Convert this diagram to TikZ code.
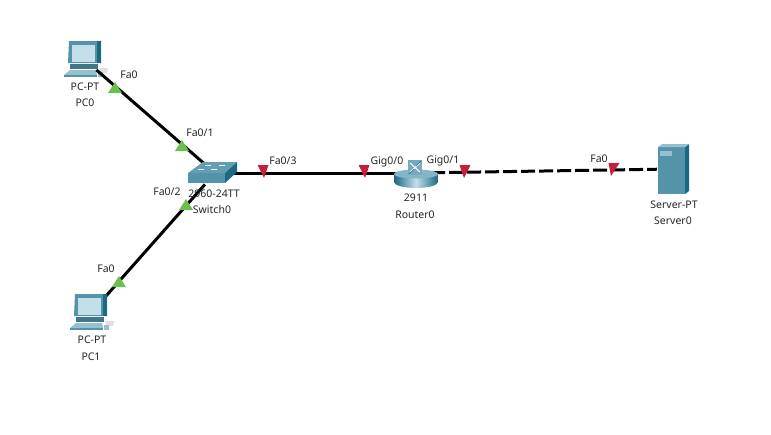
\documentclass[tikz,border=0pt]{standalone}
\usepackage{fontspec}
\setmainfont{Noto Sans}
\usetikzlibrary{calc}
\definecolor{cbody}{RGB}{84,147,170}
\definecolor{cdark}{RGB}{26,104,130}
\definecolor{clight}{RGB}{150,192,208}
\definecolor{cscreen}{RGB}{196,222,234}
\definecolor{cgreen}{RGB}{108,190,78}
\definecolor{cred}{RGB}{200,30,60}
\tikzset{
  device/.style={circle,minimum size=30pt,inner sep=0pt},
  lbl/.style={inner sep=0pt,text=black!85,font=\fontsize{10.5}{10.5}\selectfont},
  link/.style={line width=3pt,color=black},
  pics/upmark/.style={code={\fill[cgreen] (-7,5) -- (7,5) -- (0,-6) -- cycle;}},
  pics/downmark/.style={code={\fill[cred] (-5.5,-6) -- (5.5,-6) -- (#1,7) -- cycle;}},
  pics/downmark/.default=1,
  pics/pcicon/.style={code={
    \fill[cbody] (-16,-19) -- (16,-19) -- (16,3) -- (-17,3) -- cycle;
    \fill[cdark] (12,-19) -- (16,-19) -- (16,3) -- (12,3) -- cycle;
    \fill[cscreen] (-13,-15) -- (10,-15) -- (10,2) -- (-13,2) -- cycle;
    \fill[cbody!80!black] (-15,4) -- (13,4) -- (13,9) -- (-15,9) -- cycle;
    \fill[clight] (-21,15) -- (-15,10) -- (11,10) -- (12,15) -- cycle;
    \fill[cbody] (-21,15) rectangle (12,17);
    \fill[black!12] (14,8) -- (23,8) -- (22,13) -- (16,13) -- cycle;
    \fill[clight] (13,12) -- (18,12) -- (18,17) -- (13,17) -- cycle;
  }},
  pics/switchicon/.style={code={
    \fill[cbody!85!cscreen] (-27,0) -- (-12,-11) -- (22,-11) -- (10,0) -- cycle;
    \fill[cbody] (-27,0) rectangle (10,10);
    \fill[cdark] (10,0) -- (22,-11) -- (22,-1) -- (10,10) -- cycle;
    \foreach \mx/\my in {-7/-8,7/-8,-14/-4,-1/-4}
      \draw[white,line width=0.7pt] (\mx-3,\my) -- (\mx+3,\my);
  }},
  pics/routericon/.style={code={
    \shade[left color=cdark,right color=cdark,middle color=cscreen]
      (-22,1) -- (-22,9) arc[start angle=180,end angle=0,x radius=22,y radius=6] -- (22,1) -- cycle;
    \fill[cbody!55!cscreen] (0,1) ellipse[x radius=22,y radius=4.5];
    \fill[cbody!70!cscreen] (-8,-13) rectangle (6,2);
    \draw[white,line width=1pt] (-6,-1) -- (4,-10) (-6,-10) -- (4,-1);
    \draw[cdark,line width=0.6pt] (-7,1) -- (-2,-4) (0,-7) -- (5,-12);
  }},
  pics/servericon/.style={code={
    \fill[cbody] (-14,-22) rectangle (13,25);
    \fill[cdark] (13,-22) -- (17,-25) -- (17,22) -- (13,25) -- cycle;
    \fill[clight] (-14,-22) -- (-10,-25) -- (17,-25) -- (13,-22) -- cycle;
    \fill[clight] (-12,-18) rectangle (0,-13);
  }}
}

\begin{document}
\begin{tikzpicture}[x=1pt,y=-1pt]
\useasboundingbox (0,0) rectangle (771,434);

\begin{scope}[every node/.style={device}]
\node (pc0) at (85,60) {};
\node (pc1) at (91,313) {};
\node (sw) at (215,173) {};
\node (router) at (416,173) {};
\node (server) at (672,169) {};
\end{scope}

\pic at (pc0) {pcicon};

\draw[link] (pc0) -- (sw);
\draw[link] (pc1) -- (sw);
\draw[link] (sw) -- (router);
\draw[link,dash pattern=on 14pt off 4pt] (router) -- (server);

\pic at (pc1) {pcicon};
\pic at (sw) {switchicon};
\pic at (router) {routericon};
\pic at (server) {servericon};

\pic at (115,88) {upmark};
\pic at (182,146) {upmark};
\pic at (186,205) {upmark};
\pic at (119,282) {upmark};
\pic at (263,171) {downmark};
\pic at (364,171) {downmark};
\pic at (465,171) {downmark={-1}};
\pic at (614,169) {downmark={-3}};

\begin{scope}[every node/.style={lbl}]
\node (pc0port) at (129,75) {Fa0};
\node (pc0type) at (85,87) {PC-PT};
\node (pc0name) at (85,103) {PC0};
\node (swport1) at (200,133) {Fa0/1};
\node (swport3) at (283,161) {Fa0/3};
\node (swport2) at (167,192) {Fa0/2};
\node (swtype) at (214,194) {2960-24TT};
\node (swname) at (212,210) {Switch0};
\node (pc1port) at (106,269) {Fa0};
\node (pc1type) at (92,340) {PC-PT};
\node (pc1name) at (91,357) {PC1};
\node (rport0) at (387,162) {Gig0/0};
\node (rport1) at (443,161) {Gig0/1};
\node (rtype) at (416,198) {2911};
\node (rname) at (415,215) {Router0};
\node (svport) at (599,159) {Fa0};
\node (svtype) at (674,205) {Server-PT};
\node (svname) at (673,221) {Server0};
\end{scope}
\end{tikzpicture}
\end{document}
